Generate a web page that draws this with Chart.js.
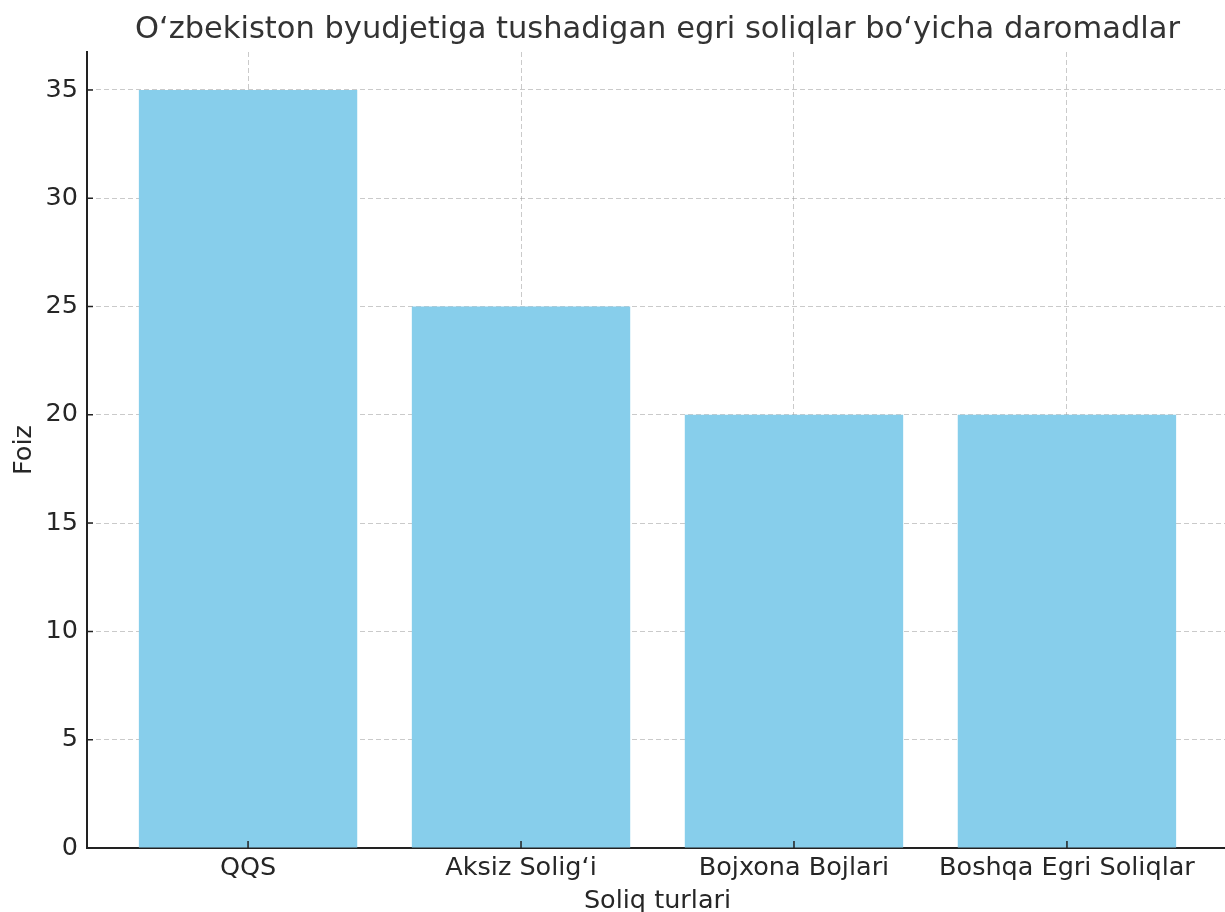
<!DOCTYPE html>
<html>
<head>
<meta charset="utf-8">
<script src="https://cdn.jsdelivr.net/npm/chart.js@4/dist/chart.umd.min.js"></script>
<style>
  html, body { margin: 0; padding: 0; background: #fff; overflow: hidden; }
  #wrap { width: 1228px; height: 917px; position: relative; }
</style>
</head>
<body>
<div id="wrap"><canvas id="chart"></canvas></div>
<script>
// --- data ---
const categories = ['QQS', 'Aksiz Solig\u2018i', 'Bojxona Bojlari', 'Boshqa Egri Soliqlar'];
const foiz = [35, 25, 20, 20];
const yTicks = [0, 5, 10, 15, 20, 25, 30, 35];

const textColor = '#262626';
const gridColor = 'rgba(150,150,150,0.5)';
const fontFamily = '"DejaVu Sans", sans-serif';

// small inward tick marks, like matplotlib direction='in'
const innerTicks = {
    id: 'innerTicks',
    afterDraw(chart) {
        const { ctx, chartArea, scales } = chart;
        ctx.save();
        ctx.strokeStyle = '#222';
        ctx.lineWidth = 1.5;
        ctx.beginPath();
        scales.x.ticks.forEach(t => {
            const px = scales.x.getPixelForValue(t.value);
            ctx.moveTo(px, chartArea.bottom);
            ctx.lineTo(px, chartArea.bottom - 7);
        });
        scales.y.ticks.forEach(t => {
            const py = scales.y.getPixelForValue(t.value);
            ctx.moveTo(chartArea.left, py);
            ctx.lineTo(chartArea.left + 6, py);
        });
        ctx.stroke();
        ctx.restore();
    }
};

const ctx = document.getElementById('chart').getContext('2d');
new Chart(ctx, {
    type: 'bar',
    data: {
        datasets: [{
            data: categories.map((c, i) => ({ x: i, y: foiz[i] })),
            backgroundColor: '#87CEEB',
            borderWidth: 0,
            barPercentage: 1,
            categoryPercentage: 0.8
        }]
    },
    options: {
        responsive: true,
        maintainAspectRatio: false,
        animation: false,
        layout: { padding: 0 },
        plugins: {
            legend: { display: false },
            tooltip: { enabled: false },
            title: {
                display: true,
                fullSize: false,
                text: 'O\u2018zbekiston byudjetiga tushadigan egri soliqlar bo\u2018yicha daromadlar',
                color: '#333',
                font: { family: fontFamily, size: 30.5, weight: 'normal' },
                padding: { top: 12, bottom: 3.4 }
            }
        },
        scales: {
            x: {
                type: 'linear',
                min: -0.59,
                max: 3.59,
                offset: false,
                z: 1,
                afterBuildTicks: s => { s.ticks = categories.map((c, i) => ({ value: i })); },
                afterFit: s => { s.height = 69; },
                ticks: {
                    color: textColor,
                    font: { family: fontFamily, size: 25.5 },
                    padding: 5,
                    maxRotation: 0,
                    callback: v => categories[v]
                },
                grid: {
                    color: gridColor,
                    lineWidth: 1,
                    offset: false,
                    drawTicks: false
                },
                border: { display: true, color: '#222', width: 2, dash: [5, 3] },
                title: {
                    display: true,
                    text: 'Soliq turlari',
                    color: textColor,
                    font: { family: fontFamily, size: 25.5 },
                    padding: { top: 0, bottom: 0 }
                }
            },
            y: {
                min: 0,
                max: 36.75,
                z: 1,
                afterBuildTicks: s => { s.ticks = yTicks.map(v => ({ value: v })); },
                afterFit: s => { s.width = 87; },
                ticks: {
                    color: textColor,
                    font: { family: fontFamily, size: 25.5 },
                    padding: 9
                },
                grid: {
                    color: gridColor,
                    lineWidth: 1,
                    drawTicks: false
                },
                border: { display: true, color: '#222', width: 2, dash: [5, 3] },
                title: {
                    display: true,
                    text: 'Foiz',
                    color: textColor,
                    font: { family: fontFamily, size: 25.5 },
                    padding: { top: 9, bottom: 0 }
                }
            }
        }
    },
    plugins: [innerTicks]
});
</script>
</body>
</html>
